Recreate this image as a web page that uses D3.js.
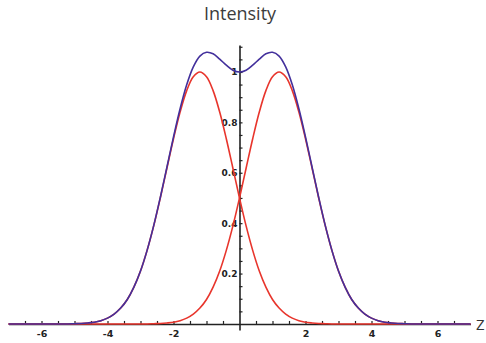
<!DOCTYPE html>
<html>
<head>
<meta charset="utf-8">
<script src="https://cdn.jsdelivr.net/npm/d3@7"></script>
<style>
  html, body { margin: 0; padding: 0; background: #fff; }
  svg { display: block; }
</style>
</head>
<body>
<svg id="chart" width="486" height="343"></svg>
<script>
// z positions (step 0.2 from -7 to 7)
const zValues = d3.range(71).map(i => +(-7 + 0.2 * i).toFixed(1));
// left red peak (centered near z = -1.2)
const redLeft = [
  0,0,0,0,0,0,0,0,0,0,
  0.001,0.002,0.004,0.007,0.013,0.023,0.039,0.063,0.097,0.146,
  0.210,0.292,0.389,0.500,0.618,0.735,0.841,0.926,0.981,1.000,
  0.981,0.926,0.841,0.735,0.618,0.500,0.389,0.292,0.210,0.146,
  0.097,0.063,0.039,0.023,0.013,0.007,0.004,0.002,0.001,
  0,0,0,0,0,0,0,0,0,0,0,0,0,0,0,0,0,0,0,0,0,0,0
];
// right red peak (centered near z = +1.2)
const redRight = [
  0,0,0,0,0,0,0,0,0,0,0,0,0,0,0,0,0,0,0,0,0,0,
  0.001,0.002,0.004,0.007,0.013,0.023,0.039,0.063,0.097,0.146,
  0.210,0.292,0.389,0.500,0.618,0.735,0.841,0.926,0.981,1.000,
  0.981,0.926,0.841,0.735,0.618,0.500,0.389,0.292,0.210,0.146,
  0.097,0.063,0.039,0.023,0.013,0.007,0.004,0.002,0.001,
  0,0,0,0,0,0,0,0,0,0
];
// total intensity (blue)
const blueSum = [
  0,0,0,0,0,0,0,0,0,0,
  0.001,0.002,0.004,0.007,0.013,0.023,0.039,0.063,0.097,0.146,
  0.210,0.292,0.390,0.502,0.622,0.742,0.854,0.949,1.020,1.063,
  1.078,1.072,1.051,1.027,1.007,1.000,1.007,1.027,1.051,1.072,
  1.078,1.063,1.020,0.949,0.854,0.742,0.622,0.502,0.390,0.292,
  0.210,0.146,0.097,0.063,0.039,0.023,0.013,0.007,0.004,0.002,0.001,
  0,0,0,0,0,0,0,0,0,0
];
const xMinorTicks = d3.range(-13, 14).filter(k => k !== 0).map(k => k / 2);
const xLabelTicks = [-6, -4, -2, 2, 4, 6];
const yMinorTicks = d3.range(1, 23).map(k => +(k * 0.05).toFixed(2));
const yLabelTicks = [0.2, 0.4, 0.6, 0.8, 1];
const titleText = "Intensity";
const axisLabel = "Z";

const svg = d3.select("#chart");
const x = d3.scaleLinear().domain([-7, 7]).range([8.5, 470.5]);
const y = d3.scaleLinear().domain([-0.024, 1.107]).range([330, 45]);
const y0 = y(0);
const xz = x(0);

// title
svg.append("text").attr("x", 240).attr("y", 19.5).attr("text-anchor", "middle")
  .attr("font-family", "'Open Sans', sans-serif").attr("font-size", 18)
  .attr("fill", "#3c3c3c").text(titleText);

// x axis
const gx = svg.append("g").attr("transform", `translate(0,${y0})`)
  .call(d3.axisBottom(x).tickValues(xMinorTicks)
    .tickFormat(d => xLabelTicks.includes(d) ? (d < 0 ? "-" + Math.abs(d) : String(d)) : "")
    .tickSizeInner(-3).tickSizeOuter(0).tickPadding(6));
gx.select(".domain").attr("stroke", "#222").attr("stroke-width", 1.6);
gx.selectAll(".tick line").attr("stroke", "#222").attr("stroke-width", 1.2);
gx.selectAll(".tick text").attr("font-family", "'DejaVu Sans', sans-serif")
  .attr("font-weight", "bold").attr("font-size", 9.5).attr("fill", "#222");

// y axis (ticks to the right)
const gy = svg.append("g").attr("transform", `translate(${xz},0)`)
  .call(d3.axisRight(y).tickValues(yMinorTicks).tickFormat("").tickSizeInner(3).tickSizeOuter(0));
gy.select(".domain").attr("stroke", "#222").attr("stroke-width", 1.6);
gy.selectAll(".tick line").attr("stroke", "#222").attr("stroke-width", 1.2);

// y labels
const gyl = svg.append("g").attr("transform", `translate(${xz},0)`)
  .call(d3.axisLeft(y).tickValues(yLabelTicks).tickFormat(d => String(d)).tickSize(0).tickPadding(2));
gyl.select(".domain").remove();
gyl.selectAll(".tick text").attr("font-family", "'DejaVu Sans', sans-serif")
  .attr("font-weight", "bold").attr("font-size", 9).attr("fill", "#222");

// curves
const line = d3.line().x((d, i) => x(zValues[i])).y(d => y(d)).curve(d3.curveCatmullRom);
svg.append("path").datum(redLeft).attr("d", line).attr("fill", "none")
  .attr("stroke", "#e8352c").attr("stroke-width", 1.6);
svg.append("path").datum(redRight).attr("d", line).attr("fill", "none")
  .attr("stroke", "#e8352c").attr("stroke-width", 1.6);
svg.append("path").datum(blueSum).attr("d", line).attr("fill", "none")
  .attr("stroke", "#43309c").attr("stroke-width", 1.6);

// axis label Z
svg.append("text").attr("x", 476).attr("y", 330)
  .attr("font-family", "'Open Sans', sans-serif").attr("font-size", 15)
  .attr("fill", "#333").text(axisLabel);
</script>
</body>
</html>
